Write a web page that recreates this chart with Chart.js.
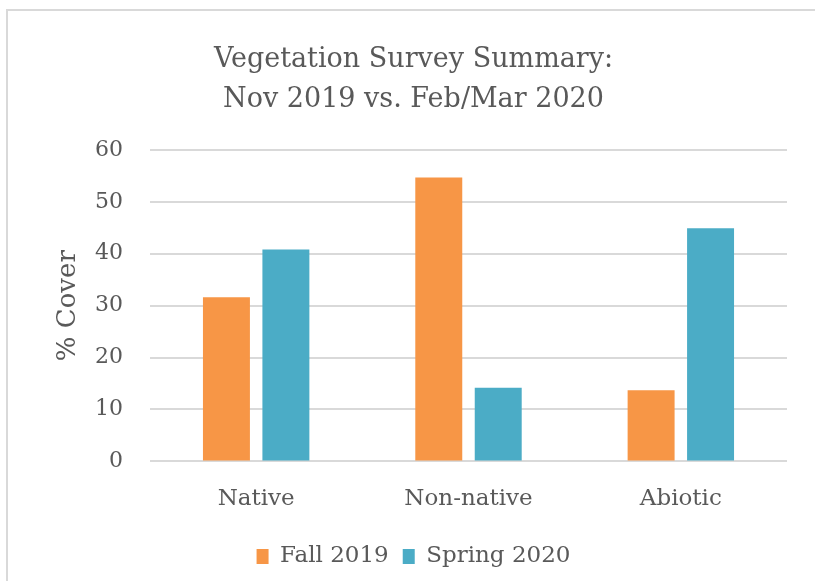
<!DOCTYPE html>
<html>
<head>
<meta charset="utf-8">
<script src="https://cdn.jsdelivr.net/npm/chart.js@4"></script>
<style>
  html, body { margin: 0; padding: 0; background: #fff; }
  #wrap { position: relative; width: 815px; height: 581px; overflow: hidden; }
  #frame { position: absolute; left: 6px; top: 9px; width: 900px; height: 700px;
           border-left: 2px solid #d9d9d9; border-top: 2px solid #d9d9d9; box-sizing: border-box; }
  canvas { position: absolute; left: 0; top: 0; }
</style>
</head>
<body>
<div id="wrap">
  <div id="frame"></div>
  <canvas id="c" width="815" height="581"></canvas>
</div>
<script>
const categories = ["Native", "Non-native", "Abiotic"];
const fall2019 = [31.6, 54.7, 13.7];
const spring2020 = [40.8, 14.2, 44.9];
const yTicks = [0, 10, 20, 30, 40, 50, 60];
const seriesNames = ["Fall 2019", "Spring 2020"];
const titleLines = ["Vegetation Survey Summary:", "Nov 2019 vs. Feb/Mar 2020"];
const yTitle = "% Cover";

const FONT = "'DejaVu Serif', serif";
const TXT = "#595959";

new Chart(document.getElementById("c"), {
  type: "bar",
  data: {
    labels: categories,
    datasets: [
      { label: seriesNames[0], data: fall2019, backgroundColor: "#F79646" },
      { label: seriesNames[1], data: spring2020, backgroundColor: "#4BACC6" }
    ]
  },
  options: {
    responsive: false,
    animation: false,
    devicePixelRatio: 1,
    layout: { padding: { left: 40, right: 28, top: 20, bottom: 3 } },
    datasets: { bar: { categoryPercentage: 0.56, barPercentage: 0.79 } },
    plugins: {
      title: {
        display: true, text: titleLines, color: TXT,
        font: { family: FONT, size: 27, weight: "normal", lineHeight: 1.48 },
        padding: { top: 20, bottom: 30 }
      },
      legend: {
        display: true, position: "bottom",
        labels: { color: TXT, font: { family: FONT, size: 23 }, boxWidth: 12, boxHeight: 15, padding: 14 }
      },
      tooltip: { enabled: false }
    },
    scales: {
      x: {
        grid: { display: false },
        border: { display: false },
        ticks: { color: TXT, font: { family: FONT, size: 23 }, padding: 16 },
        afterFit: (ax) => { ax.height += 2; }
      },
      y: {
        min: 0, max: 60,
        afterBuildTicks: (ax) => { ax.ticks = yTicks.map(v => ({ value: v })); },
        grid: { color: "#d9d9d9", lineWidth: 2, drawTicks: false },
        border: { display: false },
        ticks: { color: TXT, font: { family: FONT, size: 22 }, padding: 27 },
        title: { display: true, text: yTitle, color: TXT, font: { family: FONT, size: 26 }, padding: { top: 13, bottom: 4 } },
        afterFit: (ax) => { ax.width = 110; }
      }
    }
  }
});
</script>
</body>
</html>
